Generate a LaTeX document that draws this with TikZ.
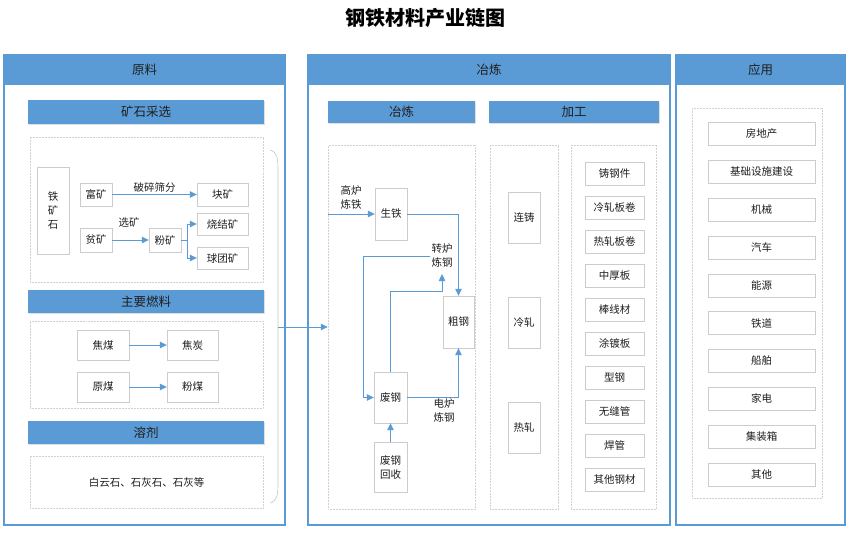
\documentclass[tikz,border=0pt]{standalone}
\usepackage{fontspec}
\setmainfont{Noto Sans CJK SC}
\usepackage{xcolor}
\usepackage{tikz}
\usetikzlibrary{arrows.meta}
\usetikzlibrary{positioning}
\usetikzlibrary{shadows}
\usetikzlibrary{calc}
\definecolor{hdblue}{HTML}{5B9BD5}
\definecolor{txtgray}{HTML}{1F1F1F}

\begin{document}
\begin{tikzpicture}[x=1pt,y=-1pt,
        panel/.style={draw=hdblue,line width=1.4pt},
        head/.style={fill=hdblue,inner sep=0pt,text=txtgray,font=\fontsize{12.5}{14}\selectfont},
        subhead/.style={head,drop shadow={shadow xshift=0.5pt,shadow yshift=-0.8pt,opacity=0.25}},
        dotbox/.style={draw=gray!35,densely dotted,line width=0.5pt,inner sep=0pt},
        nd/.style 2 args={draw=gray!40,fill=white,minimum width=#1,minimum height=#2,inner sep=0pt,align=center,
            text=txtgray,font=\fontsize{10.5}{14}\selectfont,
            drop shadow={shadow xshift=0.6pt,shadow yshift=-0.8pt,opacity=0.2}},
        flow/.style={draw=hdblue,line width=0.8pt,-{Triangle[length=7pt,width=6.5pt]}},
        lbl/.style={text=txtgray,font=\fontsize{10.5}{14}\selectfont,align=left,inner sep=1pt}]
        \useasboundingbox (0,0) rectangle (850,532);
        \node[font=\fontsize{20}{22}\selectfont\bfseries] (title) at (425,18) {钢铁材料产业链图};
        % panels
        \draw[panel] (4,55) rectangle (285,525);
        \draw[panel] (308,55) rectangle (670,525);
        \draw[panel] (676,55) rectangle (845,525);
        \node[head,minimum width=281,minimum height=30] (hyl) at (144.5,70) {原料};
        \node[head,minimum width=362,minimum height=30] (hyz) at (489,70) {冶炼};
        \node[head,minimum width=169,minimum height=30] (hyy) at (760.5,70) {应用};
        % raw materials
        \node[subhead,minimum width=236,minimum height=24] (sks) at (146,112) {矿石采选};
        \node[subhead,minimum width=236,minimum height=23] (srl) at (146,301.5) {主要燃料};
        \node[subhead,minimum width=236,minimum height=23] (srj) at (146,432.5) {溶剂};
        \node[dotbox,minimum width=233,minimum height=145] (oreb) at (146.5,209.5) {};
        \node[dotbox,minimum width=233,minimum height=87] (fuelb) at (146.5,364.5) {};
        \node[dotbox,minimum width=233,minimum height=52,text=txtgray,font=\fontsize{10.5}{14}\selectfont] (fluxb) at (146.5,482) {白云石、石灰石、石灰等};
        \node[nd={32}{87}] (tks) at (53,210.5) {铁\\矿\\石};
        \node[nd={32}{23}] (fk) at (96,194.5) {富矿};
        \node[nd={51}{23}] (kk) at (222.5,194.5) {块矿};
        \node[nd={32}{24}] (pk) at (96,240) {贫矿};
        \node[nd={32}{24}] (fnk) at (165,240) {粉矿};
        \node[nd={51}{22}] (sjk) at (222.5,224) {烧结矿};
        \node[nd={51}{22}] (qtk) at (222.5,258) {球团矿};
        \draw[flow] (fk) -- (kk) node[lbl,midway,above=1pt] {破碎筛分};
        \draw[flow] (pk) -- (fnk);
        \node[lbl] (xk) at (129,222) {选矿};
        \draw[hdblue,line width=0.8pt] (fnk.east) -- ++(6,0) coordinate (brk);
        \draw[flow] (brk) |- (sjk.west);
        \draw[flow] (brk) |- (qtk.west);
        \node[nd={52}{30}] (jm) at (103,345) {焦煤};
        \node[nd={51}{30}] (jt) at (192.5,345) {焦炭};
        \node[nd={52}{30}] (ym) at (103,387) {原煤};
        \node[nd={51}{30}] (fm) at (192.5,387) {粉煤};
        \draw[flow] (jm) -- (jt);
        \draw[flow] (ym) -- (fm);
        \draw[gray!45,line width=0.6pt] (270,150) .. controls (277,152) and (278,158) .. (278,170) -- (278,485) .. controls (278,497) and (276,501) .. (270,503);
        \coordinate (brc) at (278,327);
        % smelting
        \node[subhead,minimum width=147,minimum height=22] (syl) at (401.5,112) {冶炼};
        \node[subhead,minimum width=170,minimum height=22] (sjg) at (574,112) {加工};
        \node[dotbox,minimum width=147,minimum height=364] (ylb) at (401.5,327) {};
        \node[dotbox,minimum width=68,minimum height=364] (jgb) at (524,327) {};
        \node[dotbox,minimum width=85,minimum height=364] (cpb) at (613.5,327) {};
        \draw[flow] (brc) -- (ylb.west);
        \node[nd={32}{52}] (st) at (391,214) {生铁};
        \node[nd={31}{52}] (cg) at (458.5,322) {粗钢};
        \node[nd={33}{51}] (fg) at (390.5,397.5) {废钢};
        \node[nd={33}{50}] (hs) at (390.5,467) {废钢\\回收};
        \node[lbl] (gl) at (351,198) {高炉\\炼铁};
        \node[lbl] (zl) at (442,256) {转炉\\炼钢};
        \node[lbl] (dl) at (444,411) {电炉\\炼钢};
        \draw[flow] (ylb.west |- st.west) -- (st.west);
        \draw[flow] (st.east) -| (cg.north);
        \draw[flow] (fg.east) -| (cg.south);
        \draw[flow] (hs) -- (fg);
        \draw[flow] (fg.north) -- ++(0,-80) -| ([yshift=-5pt]zl.south);
        \draw[flow] (zl.west) -- ++(-67,0) |- (fg.west);
        % processing
        \node[nd={32}{51}] (lz) at (524,217.5) {连铸};
        \node[nd={32}{51}] (lzh) at (524,322.5) {冷轧};
        \node[nd={32}{51}] (rz) at (524,428) {热轧};
        \foreach \t [count=\i] in {铸钢件,冷轧板卷,热轧板卷,中厚板,棒线材,涂镀板,型钢,无缝管,焊管,其他钢材}
            \node[nd={59}{23}] (cp\i) at (614.5,{173.5+34*(\i-1)}) {\t};
        % applications
        \node[dotbox,minimum width=130,minimum height=390] (yyb) at (757,303) {};
        \foreach \t [count=\i] in {房地产,基础设施建设,机械,汽车,能源,铁道,船舶,家电,集装箱,其他}
            \node[nd={107}{23}] (yy\i) at (761.5,{134+37.8*(\i-1)}) {\t};
\end{tikzpicture}
\end{document}
